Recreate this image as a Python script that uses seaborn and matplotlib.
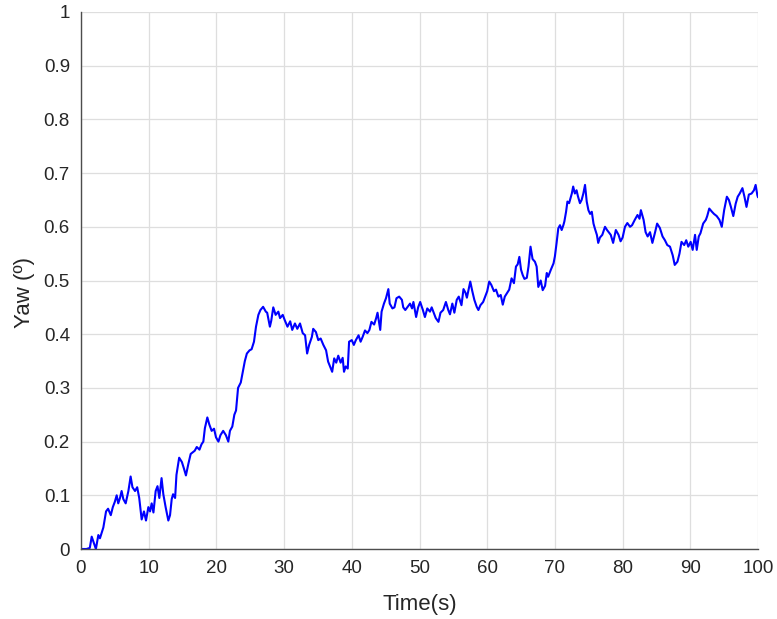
import numpy as np
import pandas as pd
import matplotlib
matplotlib.use("Agg")
import matplotlib.pyplot as plt
import seaborn as sns

# ---- data ----
time_s = [
    0, 0.8, 1.3, 1.58, 1.8, 2.2, 2.56, 2.8, 3.05, 3.3, 3.7, 4.0, 4.4, 4.7, 5.0, 5.27, 5.5, 5.76,
    6.0, 6.25, 6.6, 7.0, 7.33, 7.6, 7.98, 8.3, 8.6, 8.96, 9.3, 9.6, 9.95, 10.2, 10.44, 10.7,
    11.03, 11.3, 11.57, 11.9, 12.16, 12.5, 12.9, 13.15, 13.4, 13.6, 13.9, 14.1, 14.5, 14.9,
    15.2, 15.5, 15.85, 16.2, 16.5, 16.8, 17.1, 17.5, 17.8, 18.07, 18.3, 18.66, 18.95, 19.3,
    19.65, 19.94, 20.3, 20.6, 21.0, 21.4, 21.76, 22.0, 22.35, 22.65, 22.9, 23.2, 23.6, 23.9,
    24.2, 24.5, 24.9, 25.2, 25.55, 25.85, 26.2, 26.5, 26.9, 27.3, 27.5, 27.9, 28.1, 28.4,
    28.75, 29.15, 29.4, 29.8, 30.1, 30.5, 30.9, 31.2, 31.6, 31.95, 32.35, 32.75, 33.1, 33.4,
    33.7, 34.1, 34.3, 34.7, 35.05, 35.4, 35.8, 36.2, 36.5, 36.9, 37.1, 37.4, 37.7, 38.0,
    38.35, 38.65, 38.85, 39.1, 39.4, 39.6, 40.0, 40.3, 40.6, 41.0, 41.3, 41.6, 41.95, 42.3,
    42.6, 42.9, 43.3, 43.6, 43.8, 44.2, 44.4, 44.75, 45.05, 45.4, 45.6, 46.0, 46.3, 46.6,
    47.0, 47.4, 47.6, 47.9, 48.2, 48.6, 48.9, 49.1, 49.5, 49.8, 50.1, 50.5, 50.8, 51.15,
    51.55, 51.8, 52.1, 52.4, 52.8, 53.1, 53.5, 53.9, 54.25, 54.5, 54.85, 55.15, 55.5, 55.8,
    56.2, 56.5, 56.8, 57.0, 57.5, 57.8, 58.1, 58.45, 58.7, 59.0, 59.4, 59.7, 60.0, 60.3,
    60.6, 61.0, 61.3, 61.65, 62.0, 62.3, 62.6, 62.95, 63.25, 63.6, 63.95, 64.25, 64.5,
    64.75, 65.0, 65.25, 65.5, 65.85, 66.1, 66.4, 66.7, 67.05, 67.3, 67.55, 67.9, 68.2,
    68.55, 68.8, 69.0, 69.4, 69.8, 70.0, 70.25, 70.5, 70.75, 71.0, 71.25, 71.4, 71.65,
    71.85, 72.1, 72.5, 72.7, 72.95, 73.2, 73.4, 73.7, 73.95, 74.2, 74.45, 74.7, 74.95,
    75.2, 75.45, 75.7, 75.9, 76.2, 76.4, 76.65, 77.0, 77.4, 77.7, 78.25, 78.6, 79.0, 79.4,
    79.7, 80.0, 80.35, 80.7, 81.1, 81.4, 81.8, 82.2, 82.5, 82.7, 83.1, 83.4, 83.7, 84.05,
    84.4, 84.8, 85.1, 85.5, 85.9, 86.25, 86.6, 87.0, 87.4, 87.7, 88.1, 88.4, 88.7, 89.1,
    89.4, 89.7, 90.05, 90.35, 90.7, 90.95, 91.25, 91.5, 91.9, 92.3, 92.5, 92.8, 93.2, 93.5,
    93.9, 94.3, 94.65, 95.0, 95.4, 95.7, 96.0, 96.35, 96.7, 97.0, 97.3, 97.7, 98.0, 98.3,
    98.65, 99.05, 99.4, 99.65, 99.9, 100.0,
]
yaw_deg = [
    0.0, 0.0, 0.002, 0.023, 0.015, 0.0, 0.026, 0.02, 0.03, 0.04, 0.07, 0.075, 0.063, 0.078,
    0.088, 0.10, 0.085, 0.095, 0.108, 0.093, 0.085, 0.108, 0.135, 0.115, 0.108, 0.115, 0.095,
    0.055, 0.07, 0.053, 0.078, 0.07, 0.085, 0.068, 0.108, 0.117, 0.095, 0.132, 0.102, 0.078,
    0.053, 0.063, 0.093, 0.102, 0.095, 0.138, 0.17, 0.162, 0.15, 0.137, 0.158, 0.177, 0.18,
    0.183, 0.19, 0.185, 0.195, 0.2, 0.225, 0.245, 0.232, 0.22, 0.224, 0.208, 0.2, 0.212,
    0.22, 0.212, 0.2, 0.22, 0.228, 0.25, 0.258, 0.3, 0.31, 0.33, 0.35, 0.364, 0.37, 0.372,
    0.386, 0.414, 0.436, 0.445, 0.451, 0.442, 0.44, 0.414, 0.425, 0.45, 0.436, 0.442, 0.43,
    0.436, 0.426, 0.414, 0.424, 0.408, 0.42, 0.41, 0.42, 0.402, 0.398, 0.364, 0.38, 0.395,
    0.41, 0.404, 0.389, 0.392, 0.38, 0.37, 0.349, 0.336, 0.33, 0.355, 0.347, 0.36, 0.347,
    0.356, 0.33, 0.34, 0.336, 0.386, 0.389, 0.38, 0.389, 0.398, 0.386, 0.395, 0.407, 0.402,
    0.408, 0.423, 0.418, 0.43, 0.44, 0.408, 0.442, 0.457, 0.467, 0.484, 0.457, 0.448, 0.45,
    0.467, 0.47, 0.464, 0.45, 0.445, 0.45, 0.457, 0.448, 0.46, 0.432, 0.45, 0.46, 0.445,
    0.432, 0.448, 0.442, 0.45, 0.44, 0.43, 0.423, 0.44, 0.445, 0.46, 0.445, 0.437, 0.457,
    0.44, 0.464, 0.47, 0.454, 0.484, 0.477, 0.468, 0.498, 0.48, 0.464, 0.451, 0.445, 0.454,
    0.46, 0.47, 0.48, 0.498, 0.492, 0.48, 0.483, 0.47, 0.473, 0.455, 0.47, 0.477, 0.483,
    0.504, 0.495, 0.526, 0.53, 0.544, 0.52, 0.51, 0.503, 0.505, 0.526, 0.563, 0.54, 0.535,
    0.526, 0.488, 0.5, 0.482, 0.49, 0.514, 0.507, 0.52, 0.532, 0.545, 0.57, 0.597, 0.603,
    0.594, 0.603, 0.61, 0.628, 0.647, 0.644, 0.662, 0.675, 0.662, 0.668, 0.657, 0.644,
    0.65, 0.662, 0.678, 0.647, 0.631, 0.624, 0.628, 0.606, 0.597, 0.585, 0.57, 0.58, 0.585,
    0.6, 0.594, 0.585, 0.57, 0.594, 0.585, 0.573, 0.58, 0.6, 0.607, 0.6, 0.603, 0.613,
    0.622, 0.615, 0.631, 0.613, 0.59, 0.582, 0.59, 0.57, 0.59, 0.606, 0.598, 0.582, 0.575,
    0.566, 0.563, 0.547, 0.529, 0.535, 0.55, 0.572, 0.566, 0.575, 0.563, 0.572, 0.557,
    0.585, 0.557, 0.582, 0.588, 0.606, 0.613, 0.62, 0.634, 0.628, 0.624, 0.62, 0.613, 0.6,
    0.631, 0.656, 0.65, 0.637, 0.62, 0.643, 0.656, 0.662, 0.672, 0.656, 0.637, 0.66, 0.662,
    0.668, 0.678, 0.659, 0.655,
]
x_ticks = [0, 10, 20, 30, 40, 50, 60, 70, 80, 90, 100]
y_ticks = [0, 0.1, 0.2, 0.3, 0.4, 0.5, 0.6, 0.7, 0.8, 0.9, 1]
y_tick_labels = ["0", "0.1", "0.2", "0.3", "0.4", "0.5", "0.6", "0.7", "0.8", "0.9", "1"]

df = pd.DataFrame({"Time": time_s, "Yaw": yaw_deg})

sns.set_theme(style="white")
plt.rcParams["font.family"] = ["Liberation Sans", "DejaVu Sans"]

text_col = "#262626"
fig = plt.figure(figsize=(7.77, 6.19), dpi=100)
ax = fig.add_axes([81 / 777, 70 / 619, 677 / 777, 537 / 619])

sns.lineplot(data=df, x="Time", y="Yaw", ax=ax, color="#0000ff", linewidth=1.5,
             estimator=None, sort=False)

ax.set_xlim(0, 100)
ax.set_ylim(0, 1)
ax.set_xticks(x_ticks)
ax.set_xticklabels([str(v) for v in x_ticks])
ax.set_yticks(y_ticks)
ax.set_yticklabels(y_tick_labels)

ax.grid(True, color="#dedede", linewidth=0.9)
ax.set_axisbelow(True)

for side in ["top", "right"]:
    ax.spines[side].set_visible(False)
for side in ["left", "bottom"]:
    ax.spines[side].set_color("#4d4d4d")
    ax.spines[side].set_linewidth(1.0)

ax.tick_params(axis="both", direction="in", length=5, width=0.9, color="#4d4d4d",
               labelcolor=text_col, labelsize=13.5)
ax.tick_params(axis="x", pad=8)
ax.tick_params(axis="y", pad=8)

ax.set_xlabel("Time(s)", fontsize=16, color=text_col)
ax.set_ylabel("Yaw (º)", fontsize=16, color=text_col)
ax.xaxis.set_label_coords(0.5, -0.084)
ax.yaxis.set_label_coords(-0.068, 0.478)

fig.savefig("out.png", dpi=100)
